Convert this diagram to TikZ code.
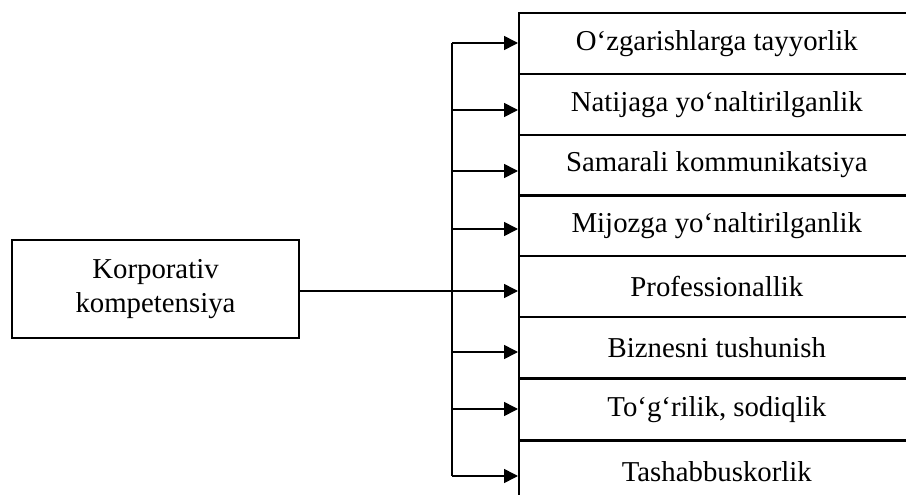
\documentclass[tikz,border=0pt]{standalone}
\usepackage{fontspec}
\setmainfont{Liberation Serif}
\usetikzlibrary{arrows.meta}
\begin{document}
\begin{tikzpicture}[x=1pt,y=-1pt,
  rowbox/.style={draw, line width=1.6pt, minimum width=396pt, minimum height=61.3pt, anchor=north west, inner sep=0pt, font=\fontsize{28.8}{34}\selectfont},
  mainbox/.style={draw, line width=1.6pt, minimum width=287pt, minimum height=98pt, align=center, inner sep=0pt, font=\fontsize{28.8}{34}\selectfont},
  arr/.style={line width=1.6pt, -{Triangle[length=14pt,width=14pt]}},
  bus/.style={line width=1.6pt}]
\useasboundingbox (0,0) rectangle (906,495);
\clip (0,0) rectangle (906,495);
\fill[white] (0,0) rectangle (906,495);
% right column of boxes
\node[rowbox] (r1) at (518,12) {O‘zgarishlarga tayyorlik};
\node[rowbox] (r2) at (518,72.8) {Natijaga yo‘naltirilganlik};
\node[rowbox] (r3) at (518,133.6) {Samarali kommunikatsiya};
\node[rowbox] (r4) at (518,194.4) {Mijozga yo‘naltirilganlik};
\node[rowbox] (r5) at (518,255.2) {Professionallik};
\node[rowbox] (r6) at (518,316) {Biznesni tushunish};
\node[rowbox] (r7) at (518,378) {To‘g‘rilik, sodiqlik};
\node[rowbox] (r8) at (518,440.5) {Tashabbuskorlik};
\draw[line width=2.6pt] (r7.north west) -- (r7.north east);
% main box
\node[mainbox] (k) at (155.5,289) {Korporativ\\kompetensiya};
% bus coordinates
\coordinate (b1) at (452,43);
\coordinate (b2) at (452,110);
\coordinate (b3) at (452,171);
\coordinate (b4) at (452,229);
\coordinate (b5) at (452,291);
\coordinate (b6) at (452,352);
\coordinate (b7) at (452,409);
\coordinate (b8) at (452,476);
\draw[bus] (b1) -- (b8);
\draw[arr] (k.east |- b5) -- (b5 -| r5.west);
\foreach \i in {1,2,3,4,6,7,8}{
  \draw[arr] (b\i) -- (b\i -| r\i.west);
}
\end{tikzpicture}
\end{document}
